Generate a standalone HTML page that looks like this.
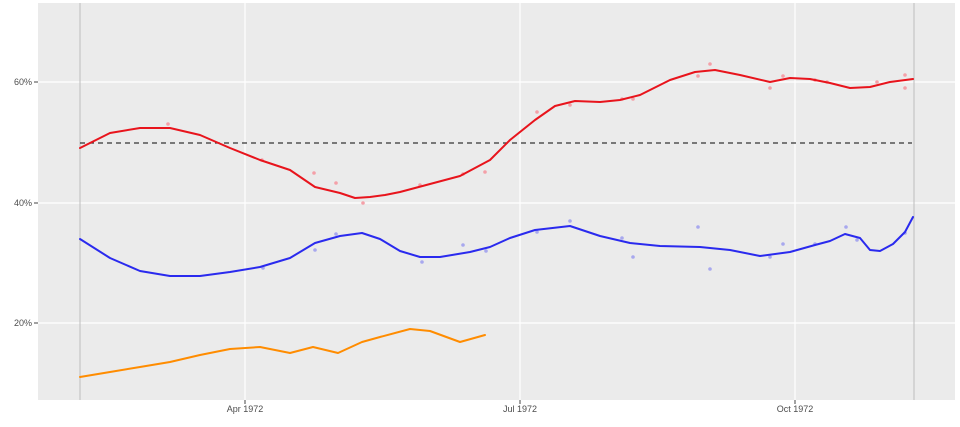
<!DOCTYPE html>
<html><head><meta charset="utf-8"><style>
html,body{margin:0;padding:0;background:#fff;}
svg{display:block;font-family:"Liberation Sans",sans-serif;}
</style></head><body>
<svg width="960" height="427" viewBox="0 0 960 427">
<rect x="38" y="3" width="917" height="397" fill="#ebebeb"/>
<g stroke="#fff" stroke-width="1.2">
<line x1="38" y1="82" x2="955" y2="82"/>
<line x1="38" y1="203" x2="955" y2="203"/>
<line x1="38" y1="323" x2="955" y2="323"/>
<line x1="245" y1="3" x2="245" y2="400"/>
<line x1="520" y1="3" x2="520" y2="400"/>
<line x1="795" y1="3" x2="795" y2="400"/>
</g>
<g stroke="#bdbdbd" stroke-width="1">
<line x1="80" y1="3" x2="80" y2="400"/>
<line x1="914" y1="3" x2="914" y2="400"/>
</g>
<line x1="80" y1="143" x2="912" y2="143" stroke="#333" stroke-width="1.3" stroke-dasharray="5,4"/>
<g fill="#f4a0a8">
<circle cx="168" cy="124" r="1.8"/><circle cx="262" cy="160" r="1.8"/><circle cx="314" cy="173" r="1.8"/><circle cx="336" cy="183" r="1.8"/><circle cx="363" cy="203" r="1.8"/><circle cx="420" cy="185" r="1.8"/><circle cx="463" cy="174" r="1.8"/><circle cx="485" cy="172" r="1.8"/><circle cx="537" cy="112" r="1.8"/><circle cx="570" cy="105" r="1.8"/><circle cx="622" cy="99" r="1.8"/><circle cx="633" cy="99" r="1.8"/><circle cx="698" cy="76" r="1.8"/><circle cx="710" cy="64" r="1.8"/><circle cx="770" cy="88" r="1.8"/><circle cx="783" cy="76" r="1.8"/><circle cx="815" cy="80" r="1.8"/><circle cx="827" cy="82" r="1.8"/><circle cx="877" cy="82" r="1.8"/><circle cx="905" cy="75" r="1.8"/><circle cx="905" cy="88" r="1.8"/>
</g>
<g fill="#a8a8ee">
<circle cx="263" cy="268" r="1.8"/><circle cx="315" cy="250" r="1.8"/><circle cx="336" cy="234" r="1.8"/><circle cx="422" cy="262" r="1.8"/><circle cx="463" cy="245" r="1.8"/><circle cx="486" cy="251" r="1.8"/><circle cx="537" cy="232" r="1.8"/><circle cx="570" cy="221" r="1.8"/><circle cx="622" cy="238" r="1.8"/><circle cx="633" cy="257" r="1.8"/><circle cx="698" cy="227" r="1.8"/><circle cx="710" cy="269" r="1.8"/><circle cx="770" cy="257" r="1.8"/><circle cx="783" cy="244" r="1.8"/><circle cx="815" cy="244" r="1.8"/><circle cx="846" cy="227" r="1.8"/><circle cx="857" cy="240" r="1.8"/><circle cx="905" cy="233" r="1.8"/>
</g>
<g fill="none" stroke-width="2" stroke-linejoin="round" stroke-linecap="round">
<polyline stroke="#e8141c" points="80,148 110,133 140,128 170,128 200,135 230,148 260,160 290,170 315,187 340,193 355,198 370,197 385,195 400,192 430,184 460,176 490,160 510,140 535,120 555,106 575,101 600,102 620,100 640,95 670,80 695,72 715,70 740,75 770,82 790,78 810,79 830,83 850,88 870,87 890,82 913,79"/>
<polyline stroke="#2a2aee" points="80,239 110,258 140,271 170,276 200,276 230,272 260,267 290,258 315,243 340,236 362,233 380,239 400,251 420,257 440,257 470,252 490,247 510,238 535,230 570,226 600,236 630,243 660,246 700,247 730,250 760,256 790,252 815,245 830,241 845,234 860,238 870,250 880,251 893,244 905,232 913,217"/>
<polyline stroke="#ff8c00" points="80,377 110,372 140,367 170,362 200,355 230,349 260,347 290,353 313,347 338,353 362,342 380,337 410,329 430,331 460,342 485,335"/>
</g>
<g stroke="#444" stroke-width="1">
<line x1="34" y1="82" x2="38" y2="82"/><line x1="34" y1="203" x2="38" y2="203"/><line x1="34" y1="323" x2="38" y2="323"/>
<line x1="245" y1="400" x2="245" y2="404"/><line x1="520" y1="400" x2="520" y2="404"/><line x1="795" y1="400" x2="795" y2="404"/>
</g>
<g font-size="9" fill="#4d4d4d">
<text x="32" y="85" text-anchor="end">60%</text>
<text x="32" y="206" text-anchor="end">40%</text>
<text x="32" y="326" text-anchor="end">20%</text>
<text x="245" y="412" text-anchor="middle">Apr 1972</text>
<text x="520" y="412" text-anchor="middle">Jul 1972</text>
<text x="795" y="412" text-anchor="middle">Oct 1972</text>
</g>
</svg>
</body></html>
